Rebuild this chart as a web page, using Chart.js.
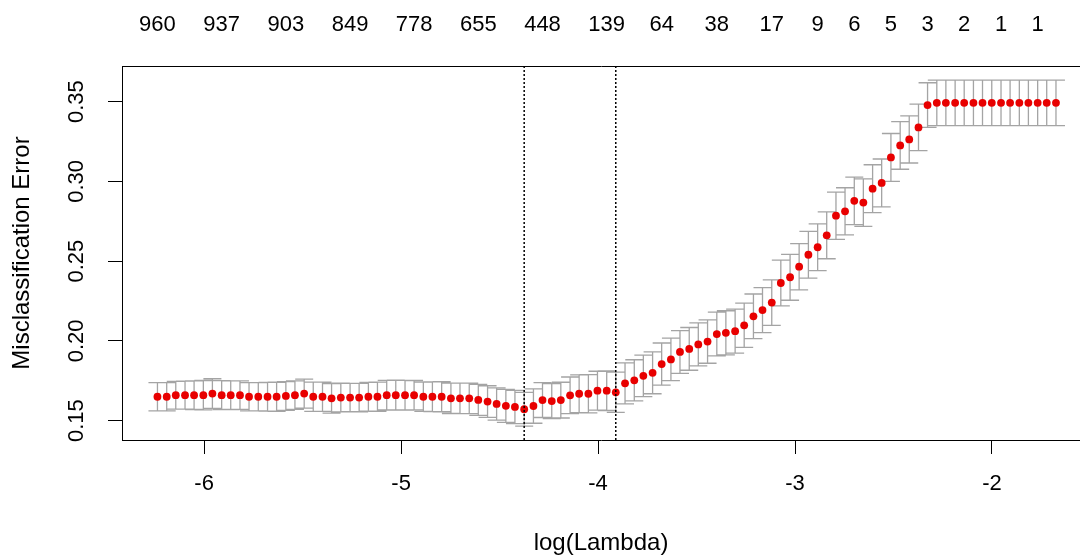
<!DOCTYPE html>
<html>
<head>
<meta charset="utf-8">
<title>Misclassification Error vs log(Lambda)</title>
<script src="https://cdn.jsdelivr.net/npm/chart.js@4.4.1/dist/chart.umd.min.js"></script>
<style>
  html, body { margin: 0; padding: 0; background: #fff; }
</style>
</head>
<body>
<canvas id="cvPlot" width="1080" height="559"></canvas>
<script>
// log(lambda) of each fit
const logLambda = [
  -6.237, -6.190, -6.144, -6.097, -6.051, -6.004, -5.958, -5.911, -5.865, -5.818,
  -5.772, -5.725, -5.678, -5.632, -5.585, -5.539, -5.492, -5.446, -5.399, -5.353,
  -5.306, -5.259, -5.213, -5.166, -5.120, -5.073, -5.027, -4.980, -4.934, -4.887,
  -4.841, -4.794, -4.747, -4.701, -4.654, -4.608, -4.561, -4.515, -4.468, -4.422,
  -4.375, -4.328, -4.282, -4.235, -4.189, -4.142, -4.096, -4.049, -4.003, -3.956,
  -3.910, -3.863, -3.816, -3.770, -3.723, -3.677, -3.630, -3.584, -3.537, -3.491,
  -3.444, -3.397, -3.351, -3.304, -3.258, -3.211, -3.165, -3.118, -3.072, -3.025,
  -2.979, -2.932, -2.885, -2.839, -2.792, -2.746, -2.699, -2.653, -2.606, -2.560,
  -2.513, -2.466, -2.420, -2.373, -2.327, -2.280, -2.234, -2.187, -2.141, -2.094,
  -2.048, -2.001, -1.954, -1.908, -1.861, -1.815, -1.768, -1.722, -1.675
];

// mean cross-validated misclassification error
const cvm = [
  0.165, 0.165, 0.166, 0.166, 0.166, 0.166, 0.167, 0.166, 0.166, 0.166,
  0.165, 0.165, 0.165, 0.165, 0.1655, 0.166, 0.167, 0.165, 0.165, 0.164,
  0.1645, 0.1645, 0.1645, 0.165, 0.165, 0.166, 0.166, 0.166, 0.166, 0.165,
  0.165, 0.165, 0.164, 0.164, 0.164, 0.163, 0.162, 0.1605, 0.1593, 0.1586,
  0.1572, 0.1592, 0.1629, 0.1623, 0.1629, 0.1659, 0.1669, 0.1669, 0.1688, 0.1688,
  0.1678, 0.1734, 0.1753, 0.1781, 0.18, 0.1855, 0.1884, 0.1931, 0.195, 0.1978,
  0.1996, 0.2043, 0.2051, 0.2061, 0.2098, 0.2154, 0.2193, 0.224, 0.2363, 0.2399,
  0.2465, 0.254, 0.2587, 0.2662, 0.2785, 0.2812, 0.2878, 0.2867, 0.2954, 0.299,
  0.315, 0.3225, 0.3263, 0.3338, 0.3478, 0.3492, 0.3492, 0.3492, 0.3492, 0.3492,
  0.3492, 0.3492, 0.3492, 0.3492, 0.3492, 0.3492, 0.3492, 0.3492, 0.3492
];

// standard error of cvm (half the bar length)
const cvsd = [
  0.0088, 0.0088, 0.0087, 0.0088, 0.0090, 0.0092, 0.0093, 0.0091, 0.0090, 0.0089,
  0.0088, 0.0089, 0.0090, 0.0091, 0.0090, 0.0089, 0.0091, 0.0092, 0.0092, 0.0093,
  0.0090, 0.0089, 0.0089, 0.0090, 0.0092, 0.0093, 0.0094, 0.0093, 0.0092, 0.0092,
  0.0093, 0.0094, 0.0095, 0.0096, 0.0096, 0.0097, 0.0099, 0.0101, 0.0103, 0.0104,
  0.0106, 0.0108, 0.0109, 0.0110, 0.0112, 0.0115, 0.0118, 0.0120, 0.0122, 0.0124,
  0.0126, 0.0128, 0.0129, 0.0130, 0.0131, 0.0132, 0.0133, 0.0134, 0.0134, 0.0135,
  0.0136, 0.0137, 0.0138, 0.0138, 0.0139, 0.0140, 0.0141, 0.0142, 0.0143, 0.0144,
  0.0145, 0.0146, 0.0147, 0.0147, 0.0148, 0.0148, 0.0149, 0.0149, 0.0150, 0.0150,
  0.0150, 0.0149, 0.0148, 0.0146, 0.0140, 0.0143, 0.0143, 0.0143, 0.0143, 0.0143,
  0.0143, 0.0143, 0.0143, 0.0143, 0.0143, 0.0143, 0.0143, 0.0143, 0.0143
];

// number of non-zero coefficients shown along the top
const nzeroAt = [-6.237, -5.911, -5.585, -5.259, -4.934, -4.608, -4.282, -3.956, -3.677,
                 -3.397, -3.118, -2.885, -2.699, -2.513, -2.327, -2.141, -1.954, -1.768];
const nzeroLabels = ["960", "937", "903", "849", "778", "655", "448", "139", "64",
                     "38", "17", "9", "6", "5", "3", "2", "1", "1"];

const xTicks = [-6, -5, -4, -3, -2];
const yTicks = [0.15, 0.20, 0.25, 0.30, 0.35];

const lambdaMinLog = -4.375;  // lambda.min
const lambda1seLog = -3.910;  // lambda.1se

// axis limits (R pads the data range by 4%)
const X_MIN = -6.417, X_MAX = -1.553;
const Y_MIN = 0.1379, Y_MAX = 0.3723;
const capHalf = 0.0457; // half width of the error bar caps, in log(lambda) units

const TICK_FONT = { family: "'Liberation Sans', Arial, sans-serif", size: 22 };
const TITLE_FONT = { family: "'Liberation Sans', Arial, sans-serif", size: 24 };

// error bars: stem, upper cap, lower cap, separated by gaps
const barPts = [];
logLambda.forEach((x, i) => {
  const hi = cvm[i] + cvsd[i];
  const lo = cvm[i] - cvsd[i];
  barPts.push({ x: x, y: lo }, { x: x, y: hi }, { x: x, y: null });
  barPts.push({ x: x - capHalf, y: hi }, { x: x + capHalf, y: hi }, { x: x, y: null });
  barPts.push({ x: x - capHalf, y: lo }, { x: x + capHalf, y: lo }, { x: x, y: null });
});

const cvPts = logLambda.map((x, i) => ({ x: x, y: cvm[i] }));

const vlinePts = [
  { x: lambdaMinLog, y: Y_MIN }, { x: lambdaMinLog, y: Y_MAX }, { x: lambdaMinLog, y: null },
  { x: lambda1seLog, y: Y_MIN }, { x: lambda1seLog, y: Y_MAX }
];

new Chart(document.getElementById("cvPlot"), {
  type: "scatter",
  data: {
    datasets: [
      {
        label: "lambda lines",
        data: vlinePts,
        showLine: true,
        borderColor: "#000",
        borderWidth: 1.5,
        borderDash: [2, 2],
        pointRadius: 0,
        spanGaps: false
      },
      {
        label: "cvm",
        data: cvPts,
        pointRadius: 3.9,
        pointBackgroundColor: "#e80000",
        pointBorderWidth: 0
      },
      {
        label: "error bars",
        data: barPts,
        showLine: true,
        borderColor: "#a4a4a4",
        borderWidth: 1.3,
        pointRadius: 0,
        spanGaps: false
      }
    ]
  },
  options: {
    responsive: false,
    animation: false,
    devicePixelRatio: 1,
    layout: { padding: 0, autoPadding: false },
    plugins: { legend: { display: false }, tooltip: { enabled: false } },
    scales: {
      x: {
        type: "linear",
        position: "bottom",
        min: X_MIN,
        max: X_MAX,
        afterBuildTicks: s => { s.ticks = xTicks.map(v => ({ value: v })); },
        afterFit: s => { s.height = 119; },
        ticks: {
          font: TICK_FONT, color: "#000", padding: 17,
          autoSkip: false, minRotation: 0, maxRotation: 0,
          callback: v => String(v)
        },
        grid: { drawOnChartArea: false, drawTicks: true, tickLength: 14, color: "#000", lineWidth: 1 },
        border: { display: true, color: "#000", width: 1 },
        title: { display: true, text: "log(Lambda)", font: TITLE_FONT, color: "#000", padding: { top: 0, bottom: 1.6 } }
      },
      xTop: {
        type: "linear",
        axis: "x",
        position: "top",
        min: X_MIN,
        max: X_MAX,
        afterBuildTicks: s => { s.ticks = nzeroAt.map(v => ({ value: v })); },
        afterFit: s => { s.height = 66; },
        ticks: {
          font: TICK_FONT, color: "#000", padding: 28,
          autoSkip: false, minRotation: 0, maxRotation: 0,
          callback: (v, i) => nzeroLabels[i]
        },
        grid: { display: false, drawTicks: false },
        border: { display: true, color: "#000", width: 1 }
      },
      y: {
        type: "linear",
        position: "left",
        min: Y_MIN,
        max: Y_MAX,
        afterBuildTicks: s => { s.ticks = yTicks.map(v => ({ value: v })); },
        afterFit: s => { s.width = 122; },
        ticks: {
          font: TICK_FONT, color: "#000", padding: 10,
          minRotation: 90, maxRotation: 90, crossAlign: "center",
          callback: v => v.toFixed(2)
        },
        grid: { drawOnChartArea: false, drawTicks: true, tickLength: 14, color: "#000", lineWidth: 1 },
        border: { display: true, color: "#000", width: 1 },
        title: { display: true, text: "Misclassification Error", font: TITLE_FONT, color: "#000", padding: { top: 7.6, bottom: 0 } }
      }
    }
  }
});
</script>
</body>
</html>
